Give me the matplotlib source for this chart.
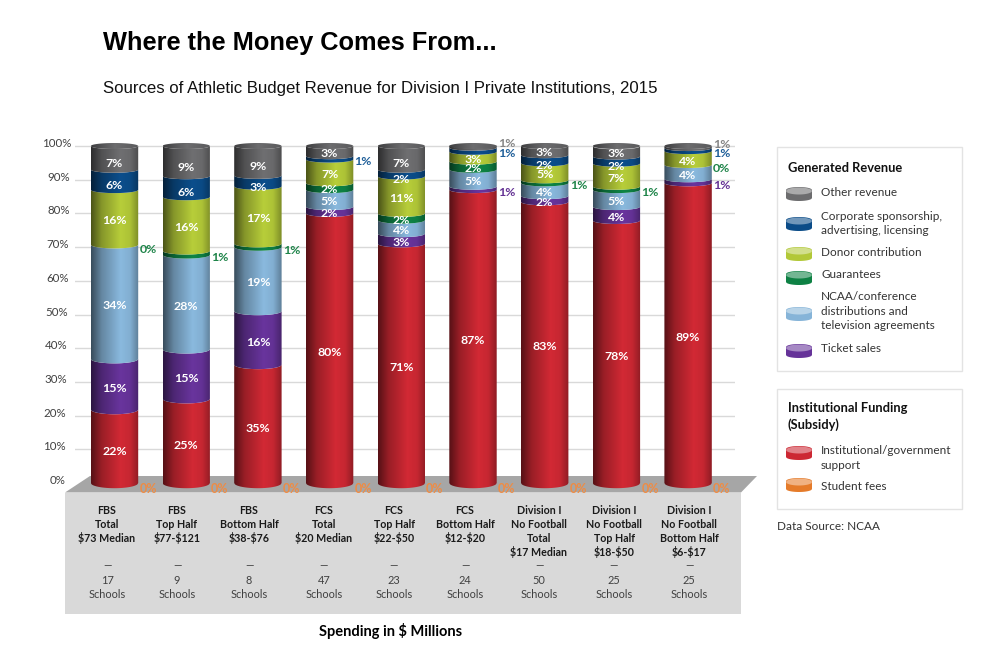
import numpy as np
import matplotlib
matplotlib.use("Agg")
import matplotlib.pyplot as plt
from matplotlib.patches import PathPatch, Polygon, Rectangle
from matplotlib.path import Path
from matplotlib.colors import LinearSegmentedColormap, to_rgb
from matplotlib.transforms import ScaledTranslation

plt.rcParams['font.family'] = ['Lato', 'DejaVu Sans']

# ---------- data ----------
group_lines = [
    ["FBS", "Total", "\\$73 Median"],
    ["FBS", "Top Half", "\\$77-\\$121"],
    ["FBS", "Bottom Half", "\\$38-\\$76"],
    ["FCS", "Total", "\\$20 Median"],
    ["FCS", "Top Half", "\\$22-\\$50"],
    ["FCS", "Bottom Half", "\\$12-\\$20"],
    ["Division I", "No Football", "Total", "\\$17 Median"],
    ["Division I", "No Football", "Top Half", "\\$18-\\$50"],
    ["Division I", "No Football", "Bottom Half", "\\$6-\\$17"],
]
school_counts = [17, 9, 8, 47, 23, 24, 50, 25, 25]
student_fees = [0, 0, 0, 0, 0, 0, 0, 0, 0]
institutional = [21.8, 25.0, 35.1, 80, 71, 87.0, 83.4, 77.9, 89.0]
ticket_sales = [15.0, 14.7, 15.9, 2, 3, 1.0, 1.8, 4.1, 1.2]
ncaa = [33.9, 28.0, 19.0, 5, 4, 5.0, 3.8, 5.0, 4.2]
guarantees = [0.0, 1.2, 1.0, 2, 2, 2.4, 0.9, 1.0, 0.0]
donor = [16.3, 16.0, 17.0, 7, 11, 2.9, 5.0, 6.8, 4.1]
corporate = [6.0, 6.2, 3.2, 1, 2, 1.2, 2.4, 2.1, 0.9]
other = [7.0, 8.9, 8.8, 3, 7, 0.7, 2.7, 3.0, 0.6]
series = [
    ("Student fees", student_fees, "#e57b2a", "#ee8c45"),
    ("Institutional", institutional, "#cc2833", "#cc2833"),
    ("Ticket sales", ticket_sales, "#663399", "#643294"),
    ("NCAA", ncaa, "#86b4d8", "#86b4d8"),
    ("Guarantees", guarantees, "#0e8144", "#1e8449"),
    ("Donor", donor, "#b2c838", "#b2c838"),
    ("Corporate", corporate, "#0b4c88", "#1f5f99"),
    ("Other", other, "#6c6c6e", "#858585"),
]
legend_top = [
    (["Other revenue"], 193, 194, "#6c6c6e"),
    (["Corporate sponsorship,", "advertising, licensing"], 216, 224, "#0b4c88"),
    (["Donor contribution"], 252, 254, "#b2c838"),
    (["Guarantees"], 275, 278, "#0e8144"),
    (["NCAA/conference", "distributions and", "television agreements"], 297, 314, "#86b4d8"),
    (["Ticket sales"], 348, 351, "#663399"),
]
legend_bottom = [
    (["Institutional/government", "support"], 451, 453, "#cc2833"),
    (["Student fees"], 487, 485, "#e57b2a"),
]
label_px = [107, 177, 249, 324, 394, 465, 539, 614, 689]

# ---------- layout ----------
W, H = 1000, 663
fig = plt.figure(figsize=(W / 100, H / 100), dpi=100)
bg = fig.add_axes([0, 0, 1, 1], zorder=0)
bg.set_xlim(0, W); bg.set_ylim(H, 0); bg.axis("off")

Y0, PX = 483.0, 3.37
YMIN, YMAX = -8, 104
X0, XS = 114.5, 71.7
XMIN, XMAX = -0.55, 8.65
ax_left = X0 + XMIN * XS; ax_right = X0 + XMAX * XS
ax_top = Y0 - YMAX * PX; ax_bot = Y0 - YMIN * PX
ax = fig.add_axes([ax_left / W, 1 - ax_bot / H, (ax_right - ax_left) / W, (ax_bot - ax_top) / H], zorder=1)
ax.patch.set_alpha(0)
ax.set_xlim(XMIN, XMAX); ax.set_ylim(YMIN, YMAX)
for s in ax.spines.values():
    s.set_visible(False)
ax.set_xticks([])
ticks = list(range(0, 101, 10))
ax.set_yticks(ticks)
ax.set_yticklabels([f"{t}%" for t in ticks], fontsize=8.3, color="#404040")
ax.tick_params(axis="y", length=0, pad=0)
for t, lab in zip(ticks, ax.get_yticklabels()):
    dx = -10 + 6 * t / 100
    dy = 3.5
    lab.set_transform(lab.get_transform() + ScaledTranslation(dx / 100, dy / 100, fig.dpi_scale_trans))
for t in ticks[1:]:
    ax.plot([XMIN, XMAX], [t, t], color="#d9d9d9", lw=1, zorder=1)

# background panel + floor
bg.add_patch(Rectangle((65, 492.5), 676, 121.5, fc="#d9d9d9", ec="none"))
bg.add_patch(Polygon([(65, 492.5), (90, 476), (757, 476), (741, 492.5)], fc="#a6a6a6", ec="none"))


def semi(v):
    return (3.0 + 2.2 * (1 - np.asarray(v) / 100)) / PX


def cyl_cmap(c):
    c = np.array(to_rgb(c))
    stops = [(0.0, c * 0.42), (0.22, c * 0.75), (0.62, np.minimum(c * 1.03, 1)), (0.82, c * 0.97), (1.0, c * 0.70)]
    return LinearSegmentedColormap.from_list("c", stops)


GRAD = np.linspace(0, 1, 128).reshape(1, -1)
HW = 23.7 / XS
U = np.linspace(-1, 1, 61)
ARC = np.sqrt(1 - U ** 2)


def gradient_patch(axis, verts, extent, cmap, z):
    patch = PathPatch(Path(verts, closed=False), fc="none", ec="none", transform=axis.transData)
    axis.add_patch(patch)
    im = axis.imshow(GRAD, extent=extent, cmap=cmap, aspect="auto", zorder=z, interpolation="bilinear")
    im.set_clip_path(patch)


ax.set_autoscale_on(False)
for i in range(len(institutional)):
    cum = 0.0
    for k, (name, vals, col, tcol) in enumerate(series):
        v = vals[i]
        v0, v1 = cum, cum + v
        cum = v1
        if v > 0:
            xs = i + HW * U
            lo = v0 - semi(v0) * ARC
            up = v1 - semi(v1) * ARC
            verts = np.vstack([np.c_[xs, lo], np.c_[xs[::-1], up[::-1]]])
            gradient_patch(ax, verts, (i - HW, i + HW, v0 - 5, v1 + 2), cyl_cmap(col), 3 + k * 0.01)
        mid = (v0 + v1) / 2
        txt = f"{v:.0f}%"
        if k == 0:
            ax.annotate(txt, (i + HW, mid), xytext=(10, -6), textcoords="offset pixels", color=tcol,
                        fontsize=9, fontweight="bold", ha="center", va="center", zorder=6)
        elif round(v) <= 1:
            dy = -1
            if k == 7:
                dy = 6
            ax.annotate(txt, (i + HW, mid - semi(mid)), xytext=(10, dy), textcoords="offset pixels",
                        color=tcol, fontsize=8.9, fontweight="bold", ha="center", va="center", zorder=6)
        else:
            dy = 0
            if k == 6:
                dy = -3
            elif k == 7:
                dy = -3 if v >= 4 else 1
            ax.annotate(txt, (i, mid - semi(mid)), xytext=(0, dy), textcoords="offset pixels",
                        color="white", fontsize=8.9, fontweight="bold",
                        ha="center", va="center", zorder=6)
    # top cap
    xs = i + HW * U
    verts = np.vstack([np.c_[xs, 100 + semi(100) * ARC], np.c_[xs[::-1], 100 - semi(100) * ARC[::-1]]])
    gradient_patch(ax, verts, (i - HW, i + HW, 98, 102),
                   LinearSegmentedColormap.from_list("cap", ["#3e3e40", "#6d6d6f", "#5a5a5c"]), 4)

# titles
bg.text(103, 43, "Where the Money Comes From...", family="Liberation Sans", fontweight="bold",
        fontsize=18.25, color="black", va="center")
bg.text(103, 88, "Sources of Athletic Budget Revenue for Division I Private Institutions, 2015",
        family="Liberation Sans", fontsize=12.07, color="#111111", va="center")

# category text in the panel
LH = 14.0
for px, lines, n in zip(label_px, group_lines, school_counts):
    for j, line in enumerate(lines):
        bg.text(px, 510 + j * LH, line, fontsize=7.7, fontweight="bold", color="#1a1a1a", ha="center", va="center")
    bg.text(px, 566, "—", fontsize=7.7, color="#404040", ha="center", va="center")
    bg.text(px, 580, str(n), fontsize=7.9, color="#404040", ha="center", va="center")
    bg.text(px, 594, "Schools", fontsize=7.9, color="#404040", ha="center", va="center")
bg.text(391, 631, "Spending in \\$ Millions", fontsize=10.5, fontweight="bold", color="black", ha="center", va="center")


# legend
def disc(y, col):
    x0, x1 = 786, 812
    u = np.linspace(-1, 1, 41)
    arc = np.sqrt(1 - u ** 2)
    xs = (x0 + x1) / 2 + (x1 - x0) / 2 * u
    body = np.vstack([np.c_[xs, y + 4 + 3 * arc], np.c_[xs[::-1], y - 4 - 3 * arc[::-1]]])
    bg.add_patch(Polygon(body, fc=col, ec="none"))
    c = np.array(to_rgb(col))
    cap = np.vstack([np.c_[xs, y - 3 + 3.5 * arc], np.c_[xs[::-1], y - 3 - 3.5 * arc[::-1]]])
    bg.add_patch(Polygon(cap, fc=c + (1 - c) * 0.42, ec="none"))


bg.add_patch(Rectangle((777, 146.5), 185, 224.5, fc="white", ec="#e3e3e3", lw=1))
bg.add_patch(Rectangle((777, 388.5), 185, 120, fc="white", ec="#e3e3e3", lw=1))
bg.text(788, 168.5, "Generated Revenue", fontsize=9.3, fontweight="bold", color="#111111", va="center")
bg.text(788, 408, "Institutional Funding", fontsize=9.3, fontweight="bold", color="#111111", va="center")
bg.text(788, 425, "(Subsidy)", fontsize=9.3, fontweight="bold", color="#111111", va="center")
for lines, ty, iy, col in legend_top + legend_bottom:
    disc(iy, col)
    for j, line in enumerate(lines):
        bg.text(821, ty + j * 14.4, line, fontsize=8.5, color="#333333", va="center")
bg.text(777, 527, "Data Source: NCAA", fontsize=8.5, color="#333333", va="center")

fig.savefig("out.png", dpi=100, facecolor="white")
